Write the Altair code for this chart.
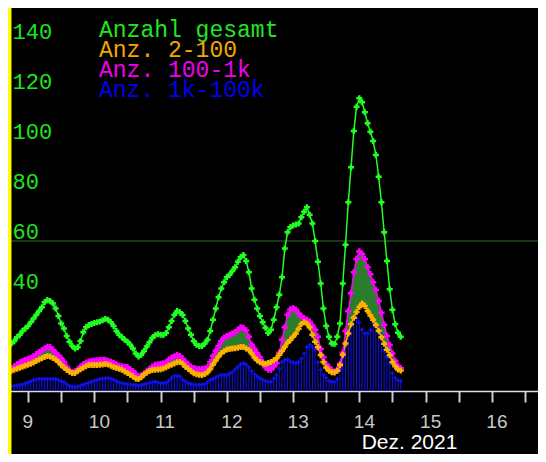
import json
import altair as alt
import pandas as pd

# hourly values, first point = 8 Dec 2021 18:00 (hours counted from 9 Dec 00:00)
start_hour = -6

total = [
    19.0, 20.0, 21.5, 22.5, 24.0, 25.0, 26.0, 27.5, 29.0, 30.5,
    32.0, 33.5, 35.5, 36.4, 36.0, 35.0, 33.0, 30.0, 27.0, 25.0,
    22.0, 19.7, 18.0, 17.0, 17.5, 20.0, 23.5, 25.5, 26.4, 26.8,
    27.2, 27.5, 27.8, 28.3, 28.8, 28.5, 27.5, 26.0, 24.0, 22.5,
    21.5, 20.5, 19.7, 18.5, 17.0, 15.0, 13.8, 14.5, 16.0, 17.8,
    19.5, 21.2, 22.3, 22.7, 22.5, 22.4, 23.2, 25.5, 28.0, 30.5,
    32.0, 31.5, 30.4, 28.0, 25.0, 22.5, 20.0, 18.5, 18.0, 18.0,
    19.0, 20.5, 24.0, 28.5, 33.0, 37.5, 41.0, 43.5, 45.5, 46.5,
    48.0, 49.5, 51.7, 53.5, 54.4, 52.0, 47.5, 41.0, 36.5, 33.0,
    30.0, 27.5, 25.3, 23.2, 24.5, 28.5, 33.5, 38.5, 45.5, 57.0,
    63.5, 65.5, 66.2, 66.6, 67.0, 69.5, 71.7, 73.5, 70.5, 67.0,
    60.0, 51.7, 43.0, 33.0, 26.0, 21.7, 19.0, 18.8, 21.7, 27.0,
    43.0, 58.5, 75.5, 89.5, 104.0, 113.7, 117.1, 115.5, 111.5, 107.1,
    103.7, 100.0, 94.4, 85.7, 75.5, 63.5, 52.0, 40.7, 32.5, 26.7,
    23.3, 21.7,
]

anz_2_100 = [
    8.1, 8.5, 8.9, 9.3, 9.7, 10.1, 10.5, 10.9, 11.4, 12.0,
    12.6, 13.1, 13.6, 14.0, 13.8, 13.2, 12.6, 11.6, 10.4, 9.4,
    8.5, 7.7, 7.2, 7.2, 8.0, 8.7, 9.3, 9.9, 10.4, 10.4,
    10.4, 10.4, 10.5, 10.6, 10.8, 10.6, 10.1, 9.6, 9.2, 8.9,
    8.5, 7.8, 7.2, 6.5, 5.8, 5.0, 4.8, 5.5, 6.6, 7.4,
    8.0, 8.4, 8.5, 8.6, 8.7, 9.0, 9.5, 10.1, 10.5, 11.0,
    11.5, 11.6, 10.9, 9.7, 8.9, 8.0, 7.1, 6.7, 6.5, 6.4,
    6.8, 7.5, 8.8, 10.6, 12.2, 13.8, 15.1, 15.9, 16.6, 16.8,
    17.0, 17.1, 17.3, 17.6, 17.6, 17.0, 16.4, 15.0, 13.4, 12.3,
    11.5, 11.0, 10.9, 11.2, 11.6, 12.3, 13.1, 14.5, 16.0, 17.6,
    19.3, 20.4, 21.7, 23.0, 24.9, 26.8, 27.5, 27.0, 25.5, 22.5,
    19.7, 17.5, 14.4, 11.6, 9.4, 8.1, 7.5, 7.4, 8.1, 10.3,
    14.5, 19.0, 23.0, 26.7, 29.3, 31.6, 33.6, 35.0, 34.0, 32.0,
    30.2, 28.5, 26.4, 24.1, 21.5, 18.9, 16.5, 14.3, 11.6, 9.9,
    8.6, 8.2,
]

anz_100_1k = [
    9.1, 9.8, 10.6, 11.4, 11.9, 12.3, 12.8, 13.2, 13.9, 14.7,
    15.5, 16.3, 17.0, 17.6, 17.5, 16.4, 15.3, 14.2, 13.1, 11.6,
    9.7, 8.2, 7.4, 7.7, 8.7, 9.7, 10.6, 11.3, 11.7, 12.0,
    12.1, 12.2, 12.3, 12.4, 12.4, 12.0, 11.6, 11.2, 10.6, 10.0,
    9.8, 9.6, 9.5, 8.7, 7.9, 6.8, 5.8, 6.2, 6.8, 7.8,
    8.8, 9.7, 10.4, 10.6, 10.8, 11.0, 11.3, 12.5, 13.3, 13.8,
    14.3, 13.9, 12.9, 11.7, 10.6, 9.6, 9.1, 8.8, 8.7, 8.7,
    8.9, 9.5, 11.5, 14.0, 16.1, 18.0, 19.9, 21.3, 21.9, 22.4,
    23.0, 23.5, 24.4, 25.4, 25.2, 24.2, 21.7, 18.5, 16.8, 15.1,
    13.4, 11.5, 9.5, 8.6, 8.6, 9.8, 11.1, 15.3, 20.5, 25.5,
    30.5, 32.6, 33.1, 32.5, 31.0, 29.9, 29.1, 28.5, 27.7, 26.2,
    24.5, 21.7, 16.8, 13.5, 10.7, 9.5, 8.2, 7.7, 8.5, 10.8,
    15.3, 24.0, 32.0, 39.1, 47.5, 52.8, 55.8, 54.8, 52.8, 49.5,
    46.7, 43.5, 40.4, 36.0, 31.3, 26.5, 22.0, 18.4, 15.0, 12.0,
    10.0, 9.1,
]

anz_1k_100k = [
    1.9, 2.0, 2.2, 2.4, 2.6, 3.0, 3.4, 3.9, 4.4, 4.6,
    4.8, 4.8, 4.8, 4.8, 4.8, 4.8, 4.8, 4.4, 4.0, 3.5,
    2.7, 2.0, 1.7, 1.5, 1.8, 2.2, 2.6, 2.9, 3.3, 3.7,
    4.1, 4.4, 4.8, 5.0, 5.1, 5.1, 4.9, 4.5, 4.0, 3.3,
    3.1, 2.9, 2.7, 2.6, 2.5, 2.4, 2.1, 2.4, 2.7, 3.0,
    3.2, 3.5, 3.7, 3.4, 3.1, 3.2, 3.3, 4.2, 5.3, 6.0,
    6.0, 5.9, 4.6, 3.8, 3.2, 2.8, 2.6, 2.5, 2.4, 2.6,
    2.8, 3.5, 4.4, 4.9, 5.4, 6.0, 6.4, 6.4, 6.4, 6.9,
    7.6, 8.7, 9.7, 10.7, 11.1, 10.6, 9.4, 8.0, 6.7, 5.9,
    5.1, 4.5, 3.9, 3.7, 3.7, 5.0, 6.4, 9.0, 11.6, 12.4,
    12.6, 11.8, 11.5, 11.1, 11.7, 13.0, 15.0, 17.5, 18.5, 17.7,
    16.6, 11.5, 8.5, 6.5, 5.3, 4.0, 3.6, 3.6, 4.8, 8.5,
    13.5, 18.0, 22.5, 26.4, 29.1, 29.1, 27.5, 24.6, 23.0, 23.0,
    24.4, 27.0, 25.9, 25.0, 22.5, 16.5, 13.5, 11.0, 7.1, 5.3,
    4.2, 4.1,
]

legend_labels = ["Anzahl gesamt", "Anz. 2-100", "Anz. 100-1k", "Anz. 1k-100k"]
y_tick_values = [40, 60, 80, 100, 120, 140]
tick_hours = list(range(0, 181, 12))
day_labels = ["9", "10", "11", "12", "13", "14", "15", "16"]
axis_title = "Dez. 2021"
ref_line = [60]

n = min(len(total), len(anz_2_100), len(anz_100_1k), len(anz_1k_100k))
df = pd.DataFrame({
    "hour": [start_hour + i for i in range(n)],
    "total": total[:n],
    "a2": anz_2_100[:n],
    "a100": anz_100_1k[:n],
    "a1k": anz_1k_100k[:n],
})

GREEN = "#22ff22"
ORANGE = "#ffb000"
MAGENTA = "#ff00ff"
BLUE = "#1010f0"
FILL = "#2a7d2a"

x_scale = alt.Scale(domain=[-7.266, 184.72], nice=False, zero=False)
y_scale = alt.Scale(domain=[0, 153.2], nice=False, zero=False)

label_expr = (
    "datum.value % 24 == 0 ? " + json.dumps(day_labels) + "[datum.value / 24] : ''"
)

x_axis = alt.Axis(
    values=tick_hours, labelExpr=label_expr, grid=False,
    domainColor="#dddddd", domainWidth=1.5,
    tickColor="#cccccc", tickWidth=2, tickSize=11,
    labelColor="#c8c8c8", labelFont="Liberation Sans", labelFontSize=19,
    labelAlign="left", labelOffset=-6, labelBaseline="alphabetic", labelPadding=25,
    labelFlush=False, labelOverlap=False, labelBound=False,
    title=axis_title, titleColor="#ffffff", titleFont="Liberation Sans",
    titleFontSize=21, titleFontWeight="normal", titleX=401, titleY=57,
    titleAlign="center", titleBaseline="alphabetic",
)
y_axis = alt.Axis(
    values=y_tick_values, grid=False, domain=False, ticks=False, tickSize=0,
    labelColor="#1ee61e", labelFont="Liberation Mono", labelFontSize=22,
    labelAlign="left", labelBaseline="alphabetic", labelPadding=-4,
    labelOffset=-3, labelFlush=False, labelOverlap=False, title=None,
)


def X():
    return alt.X("hour:Q", scale=x_scale, axis=x_axis)


def Y(field):
    return alt.Y(field, scale=y_scale, axis=y_axis)


base = alt.Chart(df)

ref = alt.Chart(pd.DataFrame({"v": ref_line})).mark_rule(
    color="#2e6e2e", strokeWidth=1
).encode(y=Y("v:Q"))

area = base.mark_area(color=FILL, opacity=1).encode(
    x=X(), y=Y("a100:Q"), y2="a2:Q"
)

mag_line = base.mark_line(color=MAGENTA, strokeWidth=1.5).encode(x=X(), y=Y("a100:Q"))
mag_pts = base.mark_point(shape="cross", filled=True, size=40, color=MAGENTA, opacity=1).encode(
    x=X(), y=Y("a100:Q")
)
org_line = base.mark_line(color=ORANGE, strokeWidth=1.5).encode(x=X(), y=Y("a2:Q"))
org_pts = base.mark_point(shape="cross", filled=True, size=36, color=ORANGE, opacity=1).encode(
    x=X(), y=Y("a2:Q")
)
blue_bars = base.mark_rule(color=BLUE, strokeWidth=1).encode(
    x=X(), y=Y("a1k:Q"), y2=alt.datum(0)
)
blue_pts = base.mark_point(shape="cross", filled=True, size=16, color=BLUE, opacity=1).encode(
    x=X(), y=Y("a1k:Q")
)
green_line = base.mark_line(color=GREEN, strokeWidth=1.5).encode(x=X(), y=Y("total:Q"))
green_pts = base.mark_point(shape="cross", filled=True, size=36, color=GREEN, opacity=1).encode(
    x=X(), y=Y("total:Q")
)

yellow = alt.Chart(pd.DataFrame({"a": [0]})).mark_rule(
    color="#ffff00", strokeWidth=3.5
).encode(x=alt.value(1.7), y=alt.value(0), y2=alt.value(446))

legend_colors = ["#22e622", "#f2a600", "#f000f0", "#0000f0"]
legend_y = [28.7, 48.7, 68.5, 89.0]
legend_layers = []
for lab, col, yy in zip(legend_labels, legend_colors, legend_y):
    legend_layers.append(
        alt.Chart(pd.DataFrame({"t": [lab]})).mark_text(
            align="left", baseline="alphabetic", font="Liberation Mono",
            fontSize=23, color=col, x=91, y=yy,
        ).encode(text="t:N")
    )

chart = alt.layer(
    ref, area, blue_bars, blue_pts, org_line, mag_line, mag_pts, org_pts,
    green_line, green_pts, yellow, *legend_layers
).properties(
    width=530, height=383,
    autosize=alt.AutoSizeParams(type="none"),
    padding={"left": 0, "top": 0, "right": 0, "bottom": 63},
    background="#000000",
).configure_view(stroke=None)

chart.save("out.html", embed_options={"renderer": "svg", "actions": False})
